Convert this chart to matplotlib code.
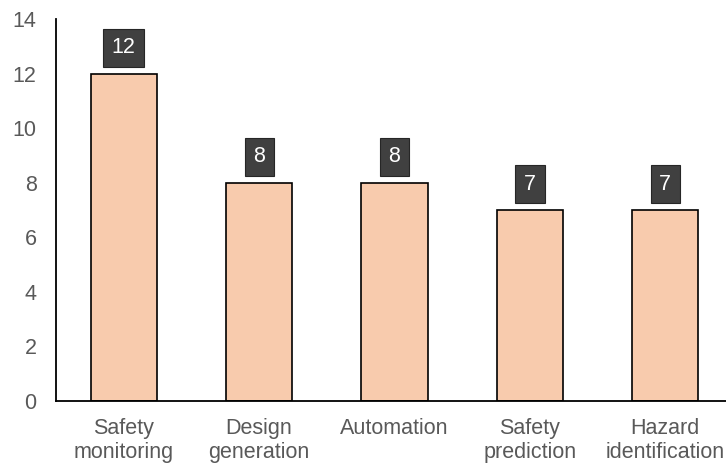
import matplotlib
matplotlib.use("Agg")
import matplotlib.pyplot as plt

categories = ["Safety\nmonitoring", "Design\ngeneration", "Automation", "Safety\nprediction", "Hazard\nidentification"]
values = [12, 8, 8, 7, 7]
yticks = [0, 2, 4, 6, 8, 10, 12, 14]

plt.rcParams['font.family'] = ['Liberation Sans', 'DejaVu Sans']

fig = plt.figure(figsize=(7.26, 4.63), dpi=100)
W, H = 726, 463
left, right, bottom, top = 56, 733, 401, 19
ax = fig.add_axes([left / W, 1 - bottom / H, (right - left) / W, (bottom - top) / H])
x = list(range(len(categories)))
ax.bar(x, values, width=0.49, color="#F8CBAD", edgecolor="black", linewidth=1.2, zorder=2)
ax.set_xlim(-0.5, len(categories) - 0.5)
ax.set_ylim(0, 14)
ax.set_yticks(yticks)
ax.set_xticks(x)
ax.set_xticklabels(categories, linespacing=1.2)
ax.tick_params(axis='both', length=0, labelsize=15.5, colors="#595959")
ax.tick_params(axis='x', pad=12)
ax.tick_params(axis='y', pad=14)
for s in ["top", "right"]:
    ax.spines[s].set_visible(False)
for s in ["left", "bottom"]:
    ax.spines[s].set_color("black")
    ax.spines[s].set_linewidth(1.3)
ax.spines["left"].set_bounds(0, 14)

for xi, v in zip(x, values):
    ax.annotate(str(v), (xi, v), xytext=(0, 11), textcoords="offset points",
                ha="center", va="bottom", fontsize=15.5, color="white",
                bbox=dict(boxstyle="square,pad=0.4", fc="#404040", ec="#262626", lw=0.8))

fig.savefig("out.png", dpi=100)
